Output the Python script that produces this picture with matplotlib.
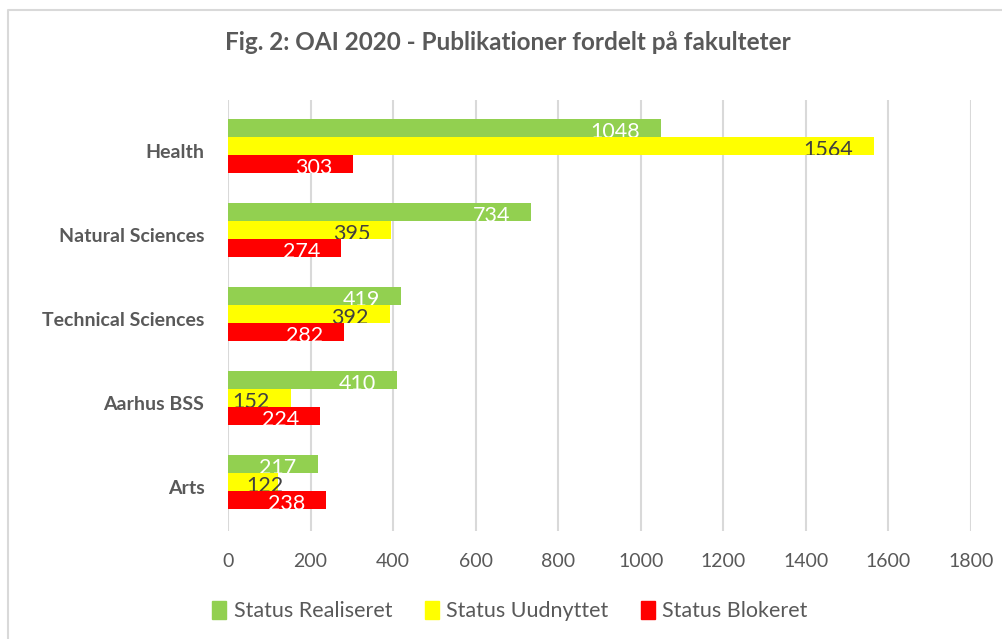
import matplotlib
matplotlib.use("Agg")
import matplotlib.pyplot as plt
import matplotlib.transforms as mtransforms
import numpy as np
from matplotlib.patches import Rectangle, Patch
from matplotlib.lines import Line2D

plt.rcParams["font.family"] = ["Lato", "DejaVu Sans"]

categories = ["Health", "Natural Sciences", "Technical Sciences", "Aarhus BSS", "Arts"]
series_names = ["Status Realiseret", "Status Uudnyttet", "Status Blokeret"]
realiseret = [1048, 734, 419, 410, 217]
uudnyttet = [1564, 395, 392, 152, 122]
blokeret = [303, 274, 282, 224, 238]
xticks = [0, 200, 400, 600, 800, 1000, 1200, 1400, 1600, 1800]

COLORS = ["#92d050", "#ffff00", "#ff0000"]
LABEL_C = ["white", "#404040", "white"]
GRID = "#d9d9d9"
TXT = "#595959"

fig = plt.figure(figsize=(10.02, 6.39), dpi=100)
fig.patch.set_facecolor("white")
# chart border: only top and left edges are visible in the crop
fig.add_artist(Line2D([8 / 1002, 8 / 1002, 1.0], [0, 1 - 10 / 639, 1 - 10 / 639],
                      transform=fig.transFigure, color="#d9d9d9", lw=1.5))

ax = fig.add_axes([228 / 1002, 1 - 531 / 639, 743 / 1002, 431 / 639])
y = np.arange(len(categories))
h = 0.214
for k, vals in enumerate([realiseret, uudnyttet, blokeret]):
    pos = y + (k - 1) * h
    ax.barh(pos, vals, height=h, color=COLORS[k], zorder=2 + k)
    for p, v in zip(pos, vals):
        # excel pushes labels that don't fit back to the right
        dx = -15 if v > 140 else 4
        t = ax.annotate(str(v), (v, p + 0.045), xytext=(dx, 0), textcoords="offset points",
                        ha="right", va="center", color=LABEL_C[k], fontsize=15.5,
                        zorder=2.5 + k)
        clip = Rectangle((-100, p - h / 2 - 0.2), 3000, h + 0.2, transform=ax.transData)
        t.set_clip_path(clip)

ax.set_xlim(0, 1800)
ax.set_ylim(4.583, -0.548)
ax.set_xticks(xticks)
ax.set_xticklabels([str(v) for v in xticks], color=TXT, fontsize=14)
ax.set_yticks(y)
ax.set_yticklabels(categories, fontsize=14, fontweight="bold", color=TXT)
ax.tick_params(axis="x", length=0, pad=16)
ax.tick_params(axis="y", length=0, pad=17)
shift = mtransforms.ScaledTranslation(0, -5 / 100, fig.dpi_scale_trans)
for lab in ax.get_yticklabels():
    lab.set_transform(lab.get_transform() + shift)
for s in ax.spines.values():
    s.set_visible(False)
ax.grid(axis="x", color=GRID, lw=1.5, zorder=0)
ax.set_axisbelow(True)

fig.text(0.507, 1 - 42 / 639, "Fig. 2: OAI 2020 - Publikationer fordelt på fakulteter",
         ha="center", va="center", fontsize=17.5, fontweight="bold", color=TXT)

handles = [Patch(color=c, label=n) for c, n in zip(COLORS, series_names)]
fig.legend(handles=handles, loc="center", bbox_to_anchor=(0.509, 1 - 611 / 639), ncol=3,
           frameon=False, fontsize=15.5, handlelength=0.65, handleheight=0.9,
           handletextpad=0.35, columnspacing=1.5, labelcolor=TXT)

fig.savefig("out.png", dpi=100)
